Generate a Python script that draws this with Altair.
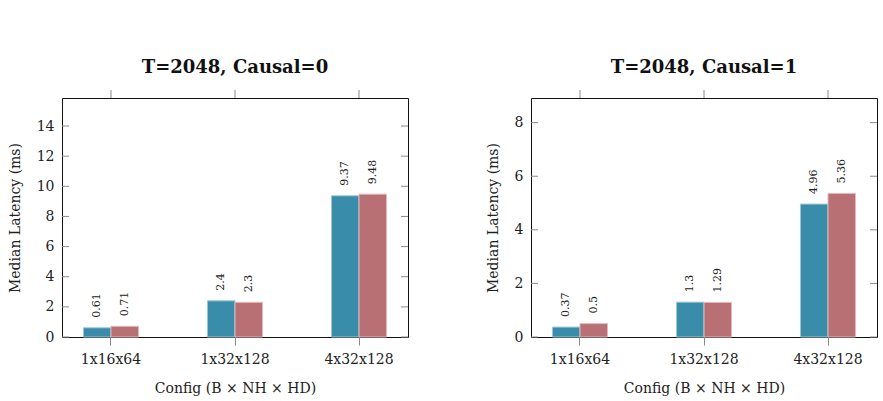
import altair as alt
import pandas as pd

configs = ["1x16x64", "1x32x128", "4x32x128"]
series = ["Series A", "Series B"]
causal0_a = [0.61, 2.4, 9.37]
causal0_b = [0.71, 2.3, 9.48]
causal1_a = [0.37, 1.3, 4.96]
causal1_b = [0.5, 1.29, 5.36]
ticks0 = [0, 2, 4, 6, 8, 10, 12, 14]
ticks1 = [0, 2, 4, 6, 8]
titles = ["T=2048, Causal=0", "T=2048, Causal=1"]
ymax0 = 15.86
ymax1 = 8.92

colors = ["#3a8cab", "#b97074"]
strokes = ["#9cc6d6", "#e0babc"]
FONT = "DejaVu Serif"
TXT = "#222222"
TICK = "#8a8a8a"
W, H = 346, 239


def panel(a, b, ticks, ymax, title):
    rows = []
    for c, va, vb in zip(configs, a, b):
        rows.append(dict(config=c, series=series[0], value=va, label=f"{va:g}"))
        rows.append(dict(config=c, series=series[1], value=vb, label=f"{vb:g}"))
    df = pd.DataFrame(rows)
    tdf = pd.DataFrame({"value": ticks})
    cdf = pd.DataFrame({"config": configs})

    xscale = alt.Scale(domain=configs, paddingInner=0.21, paddingOuter=0)
    yscale = alt.Scale(domain=[0, ymax], nice=False, zero=True)
    xaxis = alt.Axis(title="Config (B × NH × HD)", labelAngle=0, ticks=True, tickSize=8,
                     tickColor=TICK, tickWidth=1, domain=False, grid=False,
                     labelFont=FONT, labelFontSize=14, labelColor=TXT, labelPadding=7,
                     titleFont=FONT, titleFontSize=14, titleFontWeight="normal",
                     titleColor=TXT, titlePadding=15)
    yaxis = alt.Axis(values=ticks, title="Median Latency (ms)", ticks=False, domain=False,
                     grid=False, labelFont=FONT, labelFontSize=14, labelColor=TXT,
                     labelPadding=8, titleFont=FONT, titleFontSize=14,
                     titleFontWeight="normal", titleColor=TXT, titlePadding=14)
    x = alt.X("config:N", scale=xscale, sort=configs, axis=xaxis)
    y = alt.Y("value:Q", scale=yscale, axis=yaxis)
    xo = alt.XOffset("series:N", scale=alt.Scale(domain=series, paddingOuter=0.78, paddingInner=0))

    bars = alt.Chart(df).mark_bar(strokeWidth=1).encode(
        x=x, xOffset=xo, y=y,
        color=alt.Color("series:N", scale=alt.Scale(domain=series, range=colors), legend=None),
        stroke=alt.Stroke("series:N", scale=alt.Scale(domain=series, range=strokes), legend=None),
    )
    text = alt.Chart(df).mark_text(angle=270, align="left", baseline="middle", dx=10,
                                   font=FONT, fontSize=11, color=TXT).encode(
        x=x, xOffset=xo, y=y, text="label:N")
    top_ticks = alt.Chart(cdf).mark_rule(color=TICK, strokeWidth=1).encode(
        x=x, y=alt.value(-8), y2=alt.value(0))
    ytick_l = alt.Chart(tdf).mark_rule(color=TICK, strokeWidth=1).encode(
        y=y, x=alt.value(0), x2=alt.value(7))
    ytick_r = alt.Chart(tdf).mark_rule(color=TICK, strokeWidth=1).encode(
        y=y, x=alt.value(W - 7), x2=alt.value(W))

    return alt.layer(ytick_l, ytick_r, top_ticks, bars, text).properties(
        width=W, height=H,
        title=alt.TitleParams(title, font=FONT, fontSize=18, fontWeight="bold",
                              color="#111111", anchor="middle", offset=13),
    )


left = panel(causal0_a, causal0_b, ticks0, ymax0, titles[0])
right = panel(causal1_a, causal1_b, ticks1, ymax1, titles[1])

chart = alt.hconcat(left, right, spacing=76).configure_view(
    stroke="#111111", strokeWidth=1
).properties(
    padding={"left": 7, "top": 58, "right": 5, "bottom": 5},
    background="white",
)

chart.save("out.html", embed_options={"renderer": "svg", "actions": False})
